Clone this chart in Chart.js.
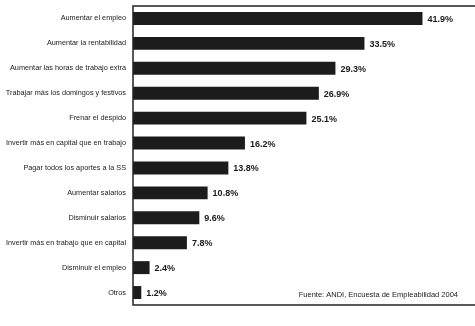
<!DOCTYPE html>
<html>
<head>
<meta charset="utf-8">
<script src="https://cdn.jsdelivr.net/npm/chart.js@4/dist/chart.umd.min.js"></script>
<style>
    html, body { margin: 0; padding: 0; background: #ffffff; }
    #wrap { width: 475px; height: 326px; }
</style>
</head>
<body>
<div id="wrap"><canvas id="empleoChart" width="475" height="326"></canvas></div>
<script>
var categories = [
    'Aumentar el empleo',
    'Aumentar la rentabilidad',
    'Aumentar las horas de trabajo extra',
    'Trabajar más los domingos y festivos',
    'Frenar el despido',
    'Invertir más en capital que en trabajo',
    'Pagar todos los aportes a la SS',
    'Aumentar salarios',
    'Disminuir salarios',
    'Invertir más en trabajo que en capital',
    'Disminuir el empleo',
    'Otros'
];
var percentages = [41.9, 33.5, 29.3, 26.9, 25.1, 16.2, 13.8, 10.8, 9.6, 7.8, 2.4, 1.2];
var sourceNote = 'Fuente: ANDI, Encuesta de Empleabilidad 2004';

var labelFont = '"Liberation Sans Narrow", "Liberation Sans", sans-serif';

// value labels, frame and source note
var extrasPlugin = {
    id: 'extras',
    afterDatasetsDraw: function(chart) {
        var ctx = chart.ctx;
        var area = chart.chartArea;
        var meta = chart.getDatasetMeta(0);
        ctx.save();
        ctx.fillStyle = '#1a1a1a';
        ctx.font = 'bold 9px ' + labelFont;
        ctx.textBaseline = 'middle';
        ctx.textAlign = 'left';
        meta.data.forEach(function(bar, i) {
            ctx.fillText(percentages[i].toFixed(1) + '%', bar.x + 5, bar.y + 1);
        });

        ctx.strokeStyle = '#222';
        ctx.lineWidth = 1.5;
        ctx.beginPath();
        ctx.moveTo(chart.width, area.top);
        ctx.lineTo(area.left, area.top);
        ctx.lineTo(area.left, area.bottom);
        ctx.lineTo(chart.width, area.bottom);
        ctx.stroke();

        ctx.font = '7.5px ' + labelFont;
        ctx.textAlign = 'right';
        ctx.textBaseline = 'middle';
        ctx.fillText(sourceNote, area.right - 17, area.bottom - 10);
        ctx.restore();
    }
};

var empleoConfig = {
    type: 'bar',
    data: {
        labels: categories,
        datasets: [{
            data: percentages,
            backgroundColor: '#1c1c1c',
            borderWidth: 0,
            categoryPercentage: 1.0,
            barPercentage: 0.52
        }]
    },
    options: {
        indexAxis: 'y',
        responsive: false,
        animation: false,
        layout: {
            padding: { top: 6, bottom: 21, left: 0, right: 0 }
        },
        plugins: {
            legend: { display: false },
            title: { display: false },
            tooltip: { enabled: false }
        },
        scales: {
            x: {
                min: 0,
                max: 49.5,
                display: false
            },
            y: {
                afterFit: function(axis) {
                    axis.width = 133;
                    axis.paddingTop = 0;
                    axis.paddingBottom = 0;
                },
                grid: { display: false, drawTicks: false },
                border: { display: false },
                ticks: {
                    color: '#222',
                    padding: 7,
                    font: { family: labelFont, size: 7.3 }
                }
            }
        }
    },
    plugins: [extrasPlugin]
};

window.onload = function() {
    var ctx = document.getElementById('empleoChart').getContext('2d');
    window.empleoChart = new Chart(ctx, empleoConfig);
};
</script>
</body>
</html>
